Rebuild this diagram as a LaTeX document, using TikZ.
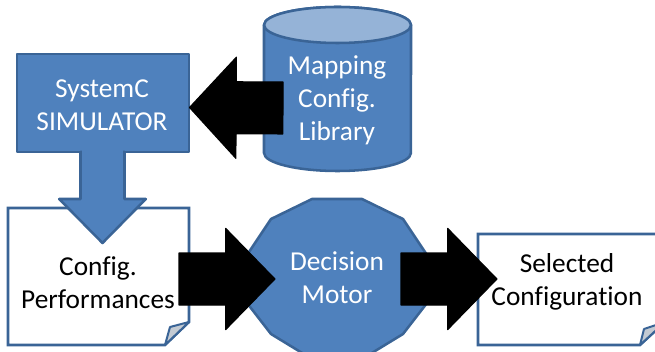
\documentclass[tikz,border=0pt]{standalone}
\usepackage{fontspec}
\setmainfont[Ligatures=NoCommon]{Carlito}
\usetikzlibrary{calc}
\definecolor{bluefill}{HTML}{4F81BD}
\definecolor{blueline}{HTML}{3A6496}
\definecolor{bluelight}{HTML}{95B3D7}
\definecolor{foldgray}{HTML}{C4CBD3}
\tikzset{
  x=0.75pt,y=-0.75pt,
  shapeline/.style={draw=blueline,line width=1.9pt,line join=round},
  bluebox/.style={shapeline,fill=bluefill},
  docbox/.style={shapeline,fill=white,line join=miter},
  foldbit/.style={draw=blueline,line width=1.5pt,fill=foldgray,line join=round},
  whitetext/.style={text=white,font=\fontsize{20.5pt}{24.7pt}\selectfont,align=center,inner sep=0pt},
  blacktext/.style={text=black,font=\fontsize{20.5pt}{24.7pt}\selectfont,align=center,inner sep=0pt},
  blackarrow/.style={draw=black,fill=black,line width=0.8pt,line join=round},
  bluearrow/.style={shapeline,fill=bluefill},
}
% style, tail, tip, half shaft, half head, head length (lengths in pt)
\newcommand{\blockarrow}[6]{%
  \coordinate (base) at ($(#3)!#6!(#2)$);
  \path[#1] ($(#2)!#4!90:(#3)$) -- ($(base)!#4!90:(#3)$) -- ($(base)!#5!90:(#3)$) -- (#3)
    -- ($(base)!#5!-90:(#3)$) -- ($(base)!#4!-90:(#3)$) -- ($(#2)!#4!-90:(#3)$) -- cycle;
}
\begin{document}
\begin{tikzpicture}
\useasboundingbox (0,0) rectangle (655,352);
\clip (0,0) rectangle (655,352);
% simulator
\node[bluebox,minimum width=129pt,minimum height=73.5pt,inner sep=0pt] (sim) at (103,103) {};
\node[whitetext] (simtext) at (102,105) {SystemC\\SIMULATOR};
% performance document
\path[docbox] (8,208) -- (189,208) -- (189,322) -- (165,345) -- (8,345) -- cycle;
\path[foldbit] (189,322) -- (170,327) -- (165,345) -- cycle;
\node[blacktext] (perf) at (98,283) {Config.\\Performances};
% selected document
\path[docbox] (478,234) -- (665,234) -- (665,322) -- (640,345) -- (478,345) -- cycle;
\path[foldbit] (665,322) -- (644,329) -- (640,345) -- cycle;
\node[blacktext] (sel) at (567,282) {Selected\\Configuration};
% library cylinder
\path[bluebox] (264,25) -- (264,153) arc[start angle=180,end angle=360,x radius=55.1pt,y radius=13.5pt]
  -- (411,25) arc[start angle=0,end angle=180,x radius=55.1pt,y radius=13.5pt] -- cycle;
\path[shapeline,fill=bluelight] (337.5,25) ellipse[x radius=55.1pt,y radius=13.5pt];
\node[whitetext] (lib) at (337,100) {Mapping\\Config.\\Library};
% decision motor
\path[bluebox] (312,199) -- (362,199) -- (403,219) -- (427,255) -- (427,303) -- (403,334) -- (362,359)
  -- (312,359) -- (271,334) -- (247,303) -- (247,255) -- (271,219) -- cycle;
\node[whitetext] (dec) at (337,277.5) {Decision\\Motor};
% connectors
\coordinate (a1) at (283,108); \coordinate (a1t) at (189.5,107.5);
\blockarrow{blackarrow}{a1}{a1t}{19.5pt}{38pt}{35pt}
\coordinate (a2) at (102.5,152); \coordinate (a2t) at (102.5,243);
\blockarrow{bluearrow}{a2}{a2t}{16.5pt}{32.5pt}{33pt}
\fill[bluefill] (82,147) rectangle (123,157);
\coordinate (a3) at (179,279); \coordinate (a3t) at (275,279);
\blockarrow{blackarrow}{a3}{a3t}{19.5pt}{38pt}{37pt}
\coordinate (a4) at (401,279); \coordinate (a4t) at (497,279);
\blockarrow{blackarrow}{a4}{a4t}{19.5pt}{38pt}{37pt}
\end{tikzpicture}
\end{document}
